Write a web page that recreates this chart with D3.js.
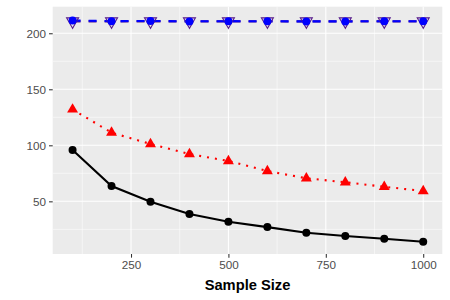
<!DOCTYPE html>
<html>
<head>
<meta charset="utf-8">
<script src="https://cdn.jsdelivr.net/npm/d3@7"></script>
<style>
  body { margin: 0; background: #fff; }
  .axis text { font-family: "Liberation Sans", Arial, sans-serif; font-size: 11.7px; fill: #4D4D4D; }
  .axis line { stroke: #333; stroke-width: 1.07px; }
  .axis path { display: none; }
</style>
</head>
<body>
<div id="chart"></div>
<script>
var sampleSize = [100, 200, 300, 400, 500, 600, 700, 800, 900, 1000];
var blackVals = [95.8, 63.7, 49.7, 38.7, 31.8, 27, 22, 19, 16.6, 14];
var redVals = [132, 111.3, 101.2, 92.2, 86, 77, 70.6, 67, 63, 59.2];
var purpleVals = [210.6, 210.6, 210.6, 210.6, 210.6, 210.6, 210.6, 210.6, 210.6, 210.6];
var blueVals = [211.4, 210.8, 211, 210.6, 210.8, 210.7, 210.6, 210.6, 210.8, 210.7];
var xTicks = [250, 500, 750, 1000];
var yTicks = [50, 100, 150, 200];

var svgWidth = 450,
    svgHeight = 300,
    margin = { top: 6.7, right: 7.7, bottom: 46, left: 52.7 },
    width = svgWidth - margin.left - margin.right,
    height = svgHeight - margin.top - margin.bottom;

var x = d3.scaleLinear().domain([49, 1049]).range([0, width]),
    y = d3.scaleLinear().domain([3, 223.7]).range([height, 0]);

var svg = d3.select('#chart').append('svg')
    .attr('width', svgWidth)
    .attr('height', svgHeight)
    .append('g')
    .attr('transform', 'translate(' + margin.left + ',' + margin.top + ')');

// panel
svg.append('rect')
    .attr('width', width)
    .attr('height', height)
    .attr('fill', '#EBEBEB');

var xMinor = [125, 375, 625, 875],
    yMinor = [25, 75, 125, 175];

svg.selectAll('.minor-x').data(xMinor).enter().append('line')
    .attr('x1', function (d) { return x(d); }).attr('x2', function (d) { return x(d); })
    .attr('y1', 0).attr('y2', height)
    .attr('stroke', '#fff').attr('stroke-width', 0.53);
svg.selectAll('.minor-y').data(yMinor).enter().append('line')
    .attr('y1', function (d) { return y(d); }).attr('y2', function (d) { return y(d); })
    .attr('x1', 0).attr('x2', width)
    .attr('stroke', '#fff').attr('stroke-width', 0.53);
svg.selectAll('.major-x').data(xTicks).enter().append('line')
    .attr('x1', function (d) { return x(d); }).attr('x2', function (d) { return x(d); })
    .attr('y1', 0).attr('y2', height)
    .attr('stroke', '#fff').attr('stroke-width', 1.07);
svg.selectAll('.major-y').data(yTicks).enter().append('line')
    .attr('y1', function (d) { return y(d); }).attr('y2', function (d) { return y(d); })
    .attr('x1', 0).attr('x2', width)
    .attr('stroke', '#fff').attr('stroke-width', 1.07);

// axes
svg.append('g')
    .attr('class', 'x axis')
    .attr('transform', 'translate(0,' + height + ')')
    .call(d3.axisBottom(x).tickValues(xTicks).tickFormat(d3.format('d')).tickSize(3.67).tickPadding(3));

svg.append('g')
    .attr('class', 'y axis')
    .call(d3.axisLeft(y).tickValues(yTicks).tickFormat(d3.format('d')).tickSize(3.67).tickPadding(3));

svg.append('text')
    .attr('x', width / 2)
    .attr('y', height + 36)
    .attr('text-anchor', 'middle')
    .style('font-family', '"Liberation Sans", Arial, sans-serif')
    .style('font-size', '14.7px')
    .style('font-weight', 'bold')
    .attr('fill', '#000')
    .text('Sample Size');

var series = [
    { vals: blackVals, color: '#000000', dash: null, shape: 'circle', r: 4 },
    { vals: redVals, color: '#FF0000', dash: '2,6', shape: 'triangle', r: 5.5 },
    { vals: purpleVals, color: '#551A8B', dash: '8,8', shape: 'downtri', r: 6 },
    { vals: blueVals, color: '#0000FF', dash: '8,8', shape: 'circle', r: 4 }
];

var line = d3.line()
    .x(function (d) { return x(d[0]); })
    .y(function (d) { return y(d[1]); });

series.forEach(function (s) {
    var pts = sampleSize.map(function (v, i) { return [v, s.vals[i]]; });
    svg.append('path')
        .attr('d', line(pts))
        .attr('fill', 'none')
        .attr('stroke', s.color)
        .attr('stroke-width', 2.1)
        .attr('stroke-dasharray', s.dash);
});

series.forEach(function (s) {
    var pts = sampleSize.map(function (v, i) { return [v, s.vals[i]]; });
    var g = svg.append('g');
    if (s.shape === 'circle') {
        g.selectAll('circle').data(pts).enter().append('circle')
            .attr('cx', function (d) { return x(d[0]); })
            .attr('cy', function (d) { return y(d[1]); })
            .attr('r', s.r)
            .attr('fill', s.color);
    } else if (s.shape === 'triangle') {
        g.selectAll('path').data(pts).enter().append('path')
            .attr('d', d3.symbol().type(d3.symbolTriangle).size(52))
            .attr('transform', function (d) { return 'translate(' + x(d[0]) + ',' + y(d[1]) + ')'; })
            .attr('fill', s.color);
    } else {
        g.selectAll('path').data(pts).enter().append('path')
            .attr('d', d3.symbol().type(d3.symbolTriangle).size(62))
            .attr('transform', function (d) { return 'translate(' + x(d[0]) + ',' + y(d[1]) + ') rotate(180)'; })
            .attr('fill', 'none')
            .attr('stroke', s.color)
            .attr('stroke-width', 1.1);
    }
});
</script>
</body>
</html>
